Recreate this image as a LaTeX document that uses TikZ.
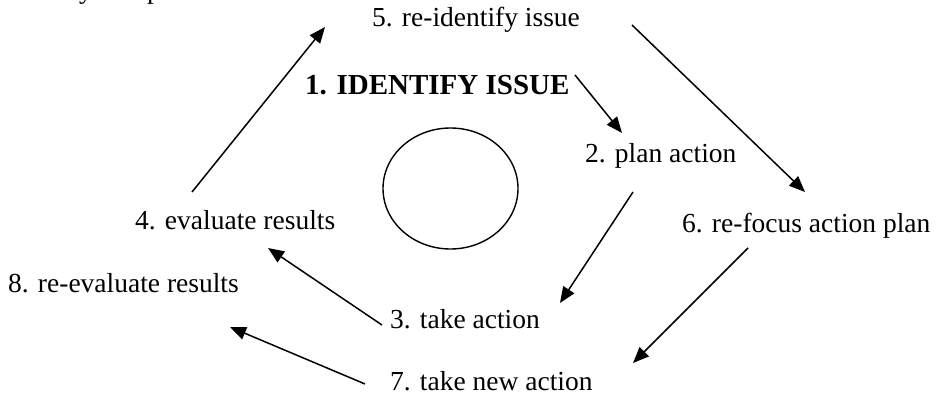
\documentclass[tikz,border=0pt]{standalone}
\usepackage{fontspec}
\setmainfont{Liberation Serif}
\usetikzlibrary{arrows.meta,shapes.geometric}
\begin{document}
\begin{tikzpicture}[x=1pt,y=-1pt,
  lbl/.style={anchor=base west,inner sep=0pt,font=\fontsize{27.5}{30}\selectfont},
  hd/.style={anchor=base west,inner sep=0pt,font=\fontsize{29}{32}\selectfont\bfseries},
  arr/.style={line width=1.5pt,-{Triangle[length=16pt,width=13pt]}},
  ring/.style={draw,ellipse,line width=1.4pt,inner sep=0pt,minimum width=135pt,minimum height=121pt}]
\useasboundingbox (0,0) rectangle (937,396);
% cut-off line at the very top
\node[lbl] (fy) at (79,-1) {y};
\node[lbl] (fp) at (147,-1) {p};
% labels
\node[lbl] (n5) at (372,27) {5. re-identify issue};
\node[hd]  (n1) at (305,95) {1. IDENTIFY ISSUE};
\node[lbl] (n2) at (585,162) {2. plan action};
\node[lbl] (n4) at (135,229) {4. evaluate results};
\node[lbl] (n6) at (682,232) {6. re-focus action plan};
\node[lbl] (n8) at (8,292) {8. re-evaluate results};
\node[lbl] (n3) at (390,328) {3. take action};
\node[lbl] (n7) at (390,390) {7. take new action};
\node[ring] (circ) at (450.5,188.5) {};
% connector ends
\coordinate (t45) at (192,192); \coordinate (h45) at (325,27);
\coordinate (t12) at (575,75);  \coordinate (h12) at (622,133);
\coordinate (t56) at (632,25);  \coordinate (h56) at (805,192);
\coordinate (t23) at (633,192); \coordinate (h23) at (560,303);
\coordinate (t67) at (748,248); \coordinate (h67) at (633,363);
\coordinate (t34) at (382,325); \coordinate (h34) at (268,248);
\coordinate (t78) at (365,384); \coordinate (h78) at (230,327);
\draw[arr] (t45) -- (h45);
\draw[arr] (t12) -- (h12);
\draw[arr] (t56) -- (h56);
\draw[arr] (t23) -- (h23);
\draw[arr] (t67) -- (h67);
\draw[arr] (t34) -- (h34);
\draw[arr] (t78) -- (h78);
\end{tikzpicture}
\end{document}
